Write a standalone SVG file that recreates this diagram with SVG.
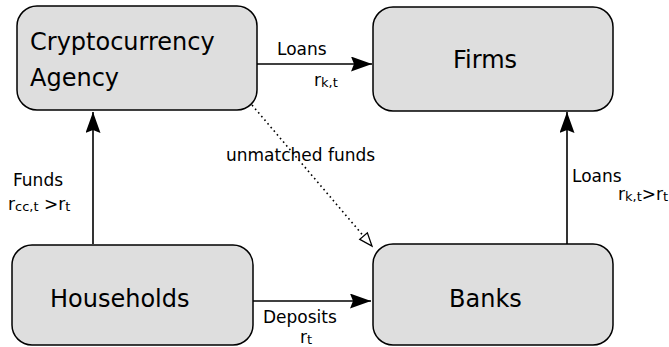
<svg xmlns="http://www.w3.org/2000/svg" width="669" height="347" viewBox="0 0 669 347">
<style>
.box{fill:#dedede;stroke:#000;stroke-width:1.5}
.big{font-family:"DejaVu Sans",Verdana,sans-serif;font-size:24px;fill:#000}
.lbl{font-family:"DejaVu Sans",Verdana,sans-serif;font-size:17px;fill:#000}
.sub{font-size:13px}
.edge{fill:none;stroke:#000;stroke-width:1.6}
.dot{fill:none;stroke:#000;stroke-width:1.6;stroke-dasharray:1.6 3.2}
</style>
<defs>
<marker id="arr" markerUnits="userSpaceOnUse" markerWidth="24" markerHeight="16" refX="21" refY="7.5" orient="auto">
<path d="M0,0 L21,7.5 L0,15 L3,7.5 z" fill="#000"/>
</marker>
<marker id="open" markerUnits="userSpaceOnUse" markerWidth="16" markerHeight="14" refX="14" refY="6" orient="auto">
<path d="M1,1 L14,6 L1,11 z" fill="#fff" stroke="#000" stroke-width="1.3"/>
</marker>
</defs>
<g id="connectors">
<path class="edge" d="M257,64 H372" marker-end="url(#arr)"/>
<path class="edge" d="M253,301 H371" marker-end="url(#arr)"/>
<path class="edge" d="M93,244 V112" marker-end="url(#arr)"/>
<path class="edge" d="M567,244 V112" marker-end="url(#arr)"/>
<path class="dot" d="M252,105 L372,246" marker-end="url(#open)"/>
<text class="lbl" x="277" y="55">Loans</text>
<text class="lbl" x="314" y="86">r<tspan class="sub" dy="1">k,t</tspan></text>
<text class="lbl" x="13" y="186">Funds</text>
<text class="lbl" x="8" y="210">r<tspan class="sub" dy="1">cc,t</tspan><tspan dy="-1"> &gt;r</tspan><tspan class="sub" dy="1">t</tspan></text>
<text class="lbl" x="572" y="182">Loans</text>
<text class="lbl" x="618" y="200">r<tspan class="sub" dy="1">k,t</tspan><tspan dy="-1">&gt;r</tspan><tspan class="sub" dy="1">t</tspan></text>
<text class="lbl" x="226" y="161">unmatched funds</text>
<text class="lbl" x="263" y="323">Deposits</text>
<text class="lbl" x="300" y="343">r<tspan class="sub" dy="1">t</tspan></text>
</g>
<g id="crypto">
<rect class="box" x="17" y="6" width="240" height="104" rx="20"/>
<text class="big" x="30" y="50">Cryptocurrency</text>
<text class="big" x="30" y="86">Agency</text>
</g>
<g id="firms">
<rect class="box" x="373" y="7" width="240" height="104" rx="20"/>
<text class="big" x="453" y="68">Firms</text>
</g>
<g id="households">
<rect class="box" x="12" y="245" width="241" height="100" rx="20"/>
<text class="big" x="50" y="307">Households</text>
</g>
<g id="banks">
<rect class="box" x="373" y="244" width="240" height="101" rx="20"/>
<text class="big" x="449" y="307">Banks</text>
</g>
</svg>
